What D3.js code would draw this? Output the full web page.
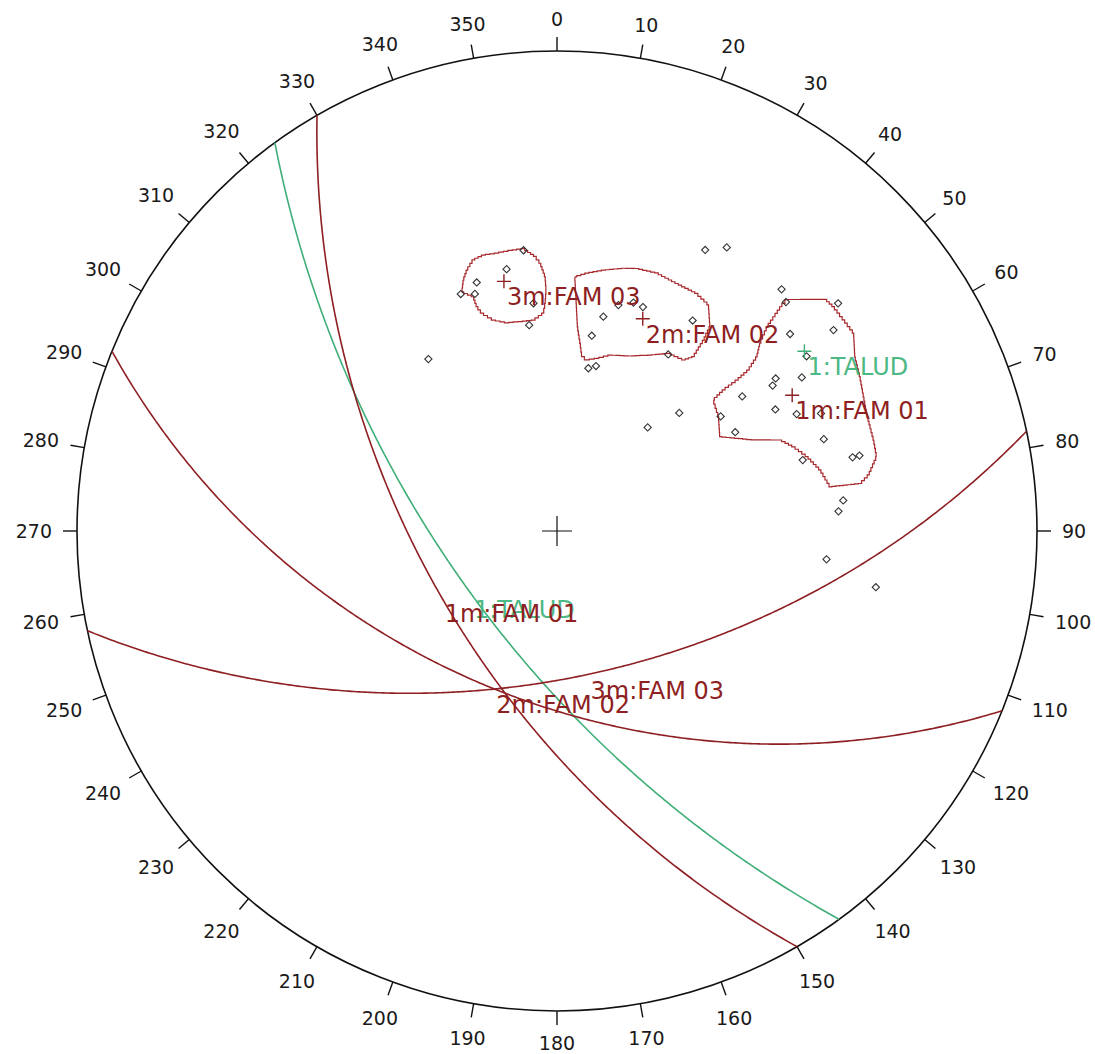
<!DOCTYPE html>
<html><head><meta charset="utf-8">
<script src="https://cdn.jsdelivr.net/npm/d3@7"></script>
<style>html,body{margin:0;padding:0;background:#fff;} svg{display:block;}</style>
</head><body>
<svg id="chart" width="1095" height="1054"></svg>
<script>
// ---------------- DATA ----------------
const tickAngles = d3.range(0, 360, 10);
const tickLabels = tickAngles.map(String);

// Planes: dip direction / dip (degrees)
const planeNames  = ["1:TALUD", "1m:FAM 01", "2m:FAM 02", "3m:FAM 03"];
const planeDipDir = [234, 240, 202, 168];
const planeDip    = [65, 59, 51, 56];
const planeKind   = ["slope", "mean", "mean", "mean"];

// Measured poles: trend / plunge (degrees)
const poleTrend  = [353.2,349.1,342.1,337.9,340.9,354.1,352.3,323.2,
                    15.2,18.5,21.0,12.2,10.1,32.8,32.2,10.9,13.3,27.8,30.9,
                    42.9,45.0,51.0,54.0,49.8,55.0,55.1,56.0,57.9,54.0,60.9,64.0,66.0,55.0,61.0,71.0,73.9,76.0,76.0,83.9,86.0,
                    41.2,46.0,96.0,100.0];
const polePlunge = [29.0,31.9,32.9,33.9,34.8,39.0,43.2,41.8,
                    38.0,36.7,36.9,40.9,45.1,34.9,43.0,51.9,51.1,23.0,20.9,
                    21.0,22.0,16.0,19.1,25.1,25.2,31.9,33.1,27.9,39.0,35.0,31.9,27.9,44.8,44.0,29.1,33.9,25.2,24.0,28.1,29.1,
                    58.0,51.0,31.1,22.0];

// Density contour outlines: [trend, plunge]
const contourFam01 = [[44.8,21.6],[49.2,17.1],[50.9,16.9],[53.6,16.9],[56.3,16.8],[59.7,18.6],[63.0,19.4],
  [69.2,20.8],[74.0,21.1],[76.9,21.3],[79.8,23.2],[81.1,24.8],[80.8,30.1],[76.9,31.3],[73.4,33.0],[70.4,34.8],
  [67.8,36.7],[65.1,41.5],[59.9,47.2],[54.7,45.2],[50.0,44.0],[49.7,41.1],[50.0,37.9],[49.9,35.0],[48.9,32.2],
  [47.2,30.1],[45.8,27.2],[44.8,22.5]];
const contourFam02 = [[4.0,34.1],[6.6,33.2],[10.1,32.2],[14.2,31.1],[16.9,30.5],[21.1,30.1],[25.8,30.4],
  [30.4,30.3],[33.8,30.9],[36.8,34.0],[37.5,36.8],[38.0,40.5],[36.5,42.2],[32.1,42.8],[27.8,45.0],[22.6,46.9],
  [16.8,48.1],[12.9,49.5],[9.9,50.2],[8.1,49.7],[7.0,47.0],[5.7,43.7],[4.7,38.4]];
const contourFam03 = [[353.2,28.7],[355.4,30.3],[356.4,31.6],[357.3,34.1],[357.4,36.6],[357.0,39.2],[356.4,41.1],
  [353.6,42.3],[350.0,42.2],[346.4,41.9],[343.2,40.7],[340.9,38.7],[340.3,37.2],[340.3,35.2],[338.3,33.6],
  [339.5,31.7],[340.9,30.2],[342.8,28.8],[345.0,28.5],[347.7,28.7],[350.5,28.7]];
const contours = [contourFam01, contourFam02, contourFam03];

// ---------------- LAYOUT ----------------
const cx = 557, cy = 531, R = 480;
const rad = Math.PI / 180;
const xScale = d3.scaleLinear().domain([-1, 1]).range([cx - R, cx + R]);
const yScale = d3.scaleLinear().domain([-1, 1]).range([cy + R, cy - R]);

// Lower-hemisphere equal-angle (Wulff) projection
function projVec(n, e, d) {
  if (d < 0) { n = -n; e = -e; d = -d; }
  return [xScale(e / (1 + d)), yScale(n / (1 + d))];
}
function projTP(trend, plunge) {
  const t = trend * rad, p = plunge * rad;
  return projVec(Math.cos(p) * Math.cos(t), Math.cos(p) * Math.sin(t), Math.sin(p));
}
function greatCircle(dipDir, dip) {
  const a = dipDir * rad, s = (dipDir - 90) * rad, d = dip * rad;
  const S = [Math.cos(s), Math.sin(s), 0];
  const D = [Math.cos(d) * Math.cos(a), Math.cos(d) * Math.sin(a), Math.sin(d)];
  return d3.range(0, 180.01, 0.5).map(phi => {
    const c = Math.cos(phi * rad), sn = Math.sin(phi * rad);
    const v = [c * S[0] + sn * D[0], c * S[1] + sn * D[1], c * S[2] + sn * D[2]];
    if (phi === 0 || phi >= 180) v[2] = 0;
    return projVec(v[0], v[1], Math.max(0, v[2]));
  });
}
// densify a closed projected outline so a step curve gives the grid-like jagged edge
function densify(pts, step) {
  const out = [];
  for (let k = 0; k < pts.length; k++) {
    const a = pts[k], b = pts[(k + 1) % pts.length];
    const L = Math.hypot(b[0] - a[0], b[1] - a[1]);
    const n = Math.max(1, Math.round(L / step));
    for (let j = 0; j < n; j++) out.push([a[0] + (b[0] - a[0]) * j / n, a[1] + (b[1] - a[1]) * j / n]);
  }
  out.push(out[0]);
  return out;
}

const svg = d3.select("#chart");
const FONT = "'DejaVu Sans', Verdana, sans-serif";
const RED = "#8e1f22", CONTOUR = "#a8282c", GREEN = "#3fae78";
const line = d3.line();
const stepLine = d3.line().curve(d3.curveStep);

// primitive circle
svg.append("circle").attr("cx", cx).attr("cy", cy).attr("r", R)
  .attr("fill", "none").attr("stroke", "#111").attr("stroke-width", 1.6);

// ticks
svg.append("g").selectAll("line").data(tickAngles).join("line")
  .attr("x1", d => cx + R * Math.sin(d * rad)).attr("y1", d => cy - R * Math.cos(d * rad))
  .attr("x2", d => cx + (R + 14) * Math.sin(d * rad)).attr("y2", d => cy - (R + 14) * Math.cos(d * rad))
  .attr("stroke", "#111").attr("stroke-width", 1.4);

// tick labels
const tl = svg.append("g").attr("font-family", FONT).attr("font-size", 19).attr("fill", "#1a1a1a")
  .selectAll("text").data(tickAngles).join("text")
  .attr("text-anchor", "middle").attr("dominant-baseline", "central")
  .text((d, i) => tickLabels[i]);
tl.each(function(d) {
  const w = this.getComputedTextLength();
  const h = 14;
  const s = Math.abs(Math.sin(d * rad)), c = Math.abs(Math.cos(d * rad));
  const rr = R + 25 + s * w / 2 + c * h / 2;
  d3.select(this).attr("x", cx + rr * Math.sin(d * rad)).attr("y", cy - rr * Math.cos(d * rad));
});

// contours
svg.append("g").selectAll("path").data(contours).join("path")
  .attr("d", c => stepLine(densify(c.map(p => projTP(p[0], p[1])), 4)))
  .attr("fill", "none").attr("stroke", CONTOUR).attr("stroke-width", 1.2);

// great circles
const planeIdx = d3.range(planeNames.length);
svg.append("g").selectAll("path").data(planeIdx).join("path")
  .attr("d", i => line(greatCircle(planeDipDir[i], planeDip[i])))
  .attr("fill", "none")
  .attr("stroke", i => planeKind[i] === "slope" ? GREEN : RED)
  .attr("stroke-width", 1.6);

// measured poles (diamonds)
const poleIdx = d3.range(poleTrend.length);
svg.append("g").selectAll("path").data(poleIdx).join("path")
  .attr("transform", i => { const p = projTP(poleTrend[i], polePlunge[i]); return `translate(${p[0]},${p[1]}) rotate(45)`; })
  .attr("d", d3.symbol(d3.symbolSquare, 26))
  .attr("fill", "none").attr("stroke", "#333").attr("stroke-width", 1.1);

// mean poles (+)
const meanPole = i => projTP((planeDipDir[i] + 180) % 360, 90 - planeDip[i]);
svg.append("g").selectAll("path").data(planeIdx).join("path")
  .attr("d", i => { const p = meanPole(i); return `M${p[0]-7},${p[1]}H${p[0]+7}M${p[0]},${p[1]-7}V${p[1]+7}`; })
  .attr("stroke", i => planeKind[i] === "slope" ? GREEN : RED).attr("stroke-width", 1.4);

// center cross
svg.append("path").attr("d", `M${cx-15},${cy}H${cx+15}M${cx},${cy-15}V${cy+15}`)
  .attr("stroke", "#111").attr("stroke-width", 1.2);

// labels: at poles and at great-circle apex
const apex = i => projTP(planeDipDir[i], planeDip[i]);
const labelData = [];
planeIdx.forEach(i => { labelData.push({i, p: meanPole(i)}); labelData.push({i, p: apex(i)}); });
svg.append("g").attr("font-family", FONT).attr("font-size", 24)
  .selectAll("text").data(labelData).join("text")
  .attr("x", d => d.p[0] + 3).attr("y", d => d.p[1] + 24)
  .attr("fill", d => planeKind[d.i] === "slope" ? "#4cb884" : RED)
  .text(d => planeNames[d.i]);
</script>
</body></html>
